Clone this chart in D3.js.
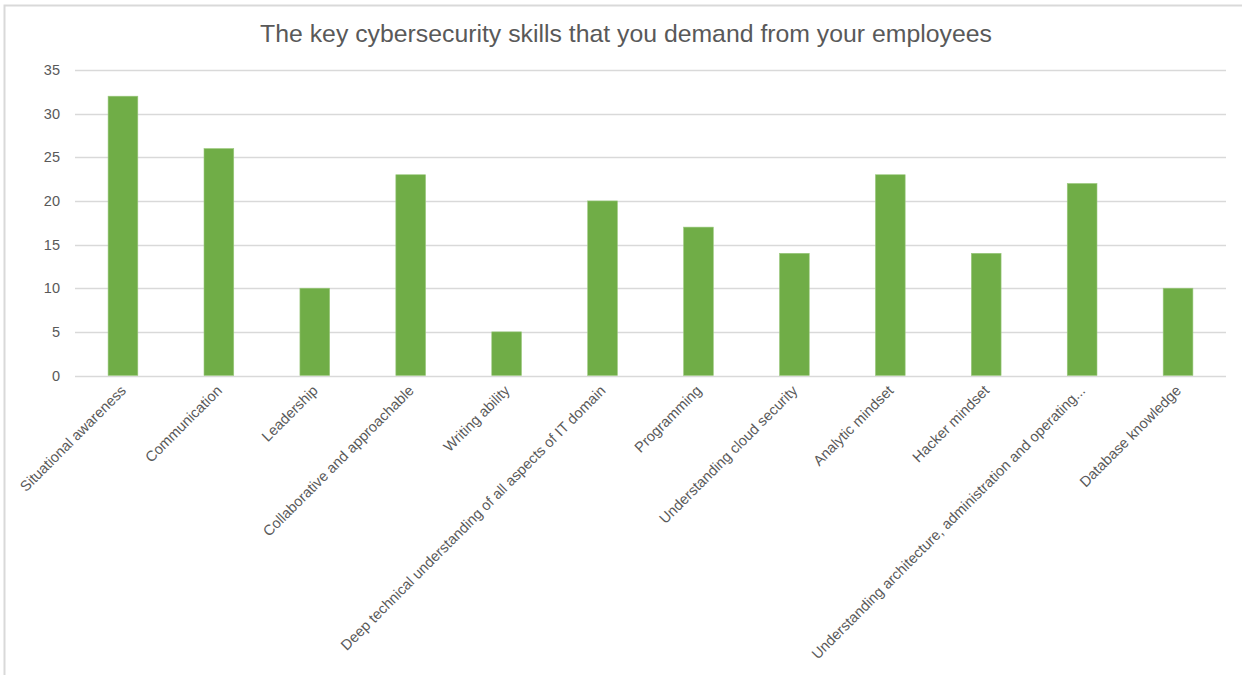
<!DOCTYPE html>
<html>
<head>
<meta charset="utf-8">
<script src="https://cdn.jsdelivr.net/npm/d3@7/dist/d3.min.js"></script>
<style>
  html, body { margin: 0; padding: 0; background: #fff; }
  svg { display: block; }
</style>
</head>
<body>
<svg id="chart" width="1242" height="675"></svg>
<script>
// Survey answers: skills demanded from cybersecurity staff
const categories = [
  "Situational awareness",
  "Communication",
  "Leadership",
  "Collaborative and approachable",
  "Writing ability",
  "Deep technical understanding of all aspects of IT domain",
  "Programming",
  "Understanding cloud security",
  "Analytic mindset",
  "Hacker mindset",
  "Understanding architecture, administration and operating...",
  "Database knowledge"
];
const counts = [32, 26, 10, 23, 5, 20, 17, 14, 23, 14, 22, 10];
const yTicks = [0, 5, 10, 15, 20, 25, 30, 35];
const title = "The key cybersecurity skills that you demand from your employees";

const W = 1242, H = 675;
const plot = { left: 75, right: 1226, top: 70, bottom: 375.5 };
const svg = d3.select("#chart");
const font = "'Liberation Sans', Arial, sans-serif";

// chart frame (only top and left edges fall inside the view)
svg.append("rect")
  .attr("x", 4.5).attr("y", 5.5)
  .attr("width", W + 10).attr("height", H + 10)
  .attr("fill", "none")
  .attr("stroke", "#d9d9d9")
  .attr("stroke-width", 2);

const x = d3.scaleBand()
  .domain(categories)
  .range([plot.left, plot.right])
  .paddingInner(0.69)
  .paddingOuter(0.345);

const y = d3.scaleLinear()
  .domain([0, 35])
  .range([plot.bottom, plot.top]);

// horizontal gridlines
svg.append("g")
  .selectAll("line")
  .data(yTicks)
  .join("line")
  .attr("x1", plot.left).attr("x2", plot.right)
  .attr("y1", d => Math.round(y(d)) + 0.5)
  .attr("y2", d => Math.round(y(d)) + 0.5)
  .attr("stroke", "#d9d9d9")
  .attr("stroke-width", 1.5);

// y axis labels
const yAxis = d3.axisLeft(y).tickValues(yTicks).tickSize(0).tickPadding(15);
const yG = svg.append("g")
  .attr("transform", `translate(${plot.left},0)`)
  .call(yAxis);
yG.select(".domain").remove();
yG.selectAll("text")
  .attr("font-family", font)
  .attr("font-size", 14.5)
  .attr("fill", "#595959");

// bars
svg.append("g")
  .selectAll("rect")
  .data(categories.map((c, i) => ({ c, v: counts[i] })))
  .join("rect")
  .attr("x", d => x(d.c))
  .attr("width", x.bandwidth())
  .attr("y", d => y(d.v))
  .attr("height", d => y(0) - y(d.v))
  .attr("fill", "#70ad47")
  .attr("stroke", "#9cc97f")
  .attr("stroke-width", 0.6);

// category labels, rotated
const xAxis = d3.axisBottom(x).tickSize(0).tickPadding(0);
const xG = svg.append("g")
  .attr("transform", `translate(0,${plot.bottom})`)
  .call(xAxis);
xG.select(".domain").remove();
xG.selectAll(".tick text")
  .attr("font-family", font)
  .attr("font-size", 14.6)
  .attr("fill", "#595959")
  .attr("text-anchor", "end")
  .attr("dy", null)
  .attr("x", 0)
  .attr("y", 0)
  .attr("transform", "translate(4,16) rotate(-45)");

// title
svg.append("text")
  .attr("x", 626)
  .attr("y", 42)
  .attr("text-anchor", "middle")
  .attr("font-family", font)
  .attr("font-size", 24.8)
  .attr("fill", "#595959")
  .text(title);
</script>
</body>
</html>
